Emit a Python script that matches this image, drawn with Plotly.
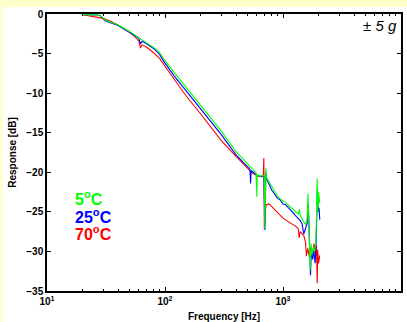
import plotly.graph_objects as go

# ---- data ----
f_green = [20, 25, 28, 31, 35, 40, 50, 55, 60, 62, 65, 70, 80, 85, 90, 100, 120, 150, 200, 250, 300, 400, 500, 530, 560, 590, 600, 605, 640, 680, 695, 702, 708, 715, 725, 760, 800, 850, 900, 950, 1000, 1050, 1100, 1200, 1300, 1350, 1380, 1400, 1450, 1500, 1550, 1600, 1630, 1660, 1700, 1730, 1760, 1800, 1850, 1900, 1930, 1950, 1975, 2000, 2050]
db_green = [-0.05, -0.08, -0.15, -0.75, -1.05, -1.4, -2.2, -2.6, -2.95, -3.1, -3.3, -3.6, -4.2, -4.5, -4.9, -5.9, -7.4, -9.2, -11.5, -13.3, -14.8, -17.4, -19.0, -19.4, -19.7, -20.0, -23.1, -20.3, -20.5, -20.4, -20.6, -27.2, -24.0, -19.5, -20.7, -21.2, -21.8, -22.5, -23.0, -23.4, -23.6, -23.8, -24.1, -24.6, -25.1, -25.3, -24.7, -25.5, -25.9, -26.3, -26.6, -26.0, -22.7, -27.0, -32.4, -29.0, -30.5, -29.5, -30.0, -29.0, -25.0, -20.8, -25.0, -22.5, -23.9]

f_blue = [20, 25, 28, 31, 35, 40, 50, 55, 60, 62, 64, 70, 80, 90, 100, 120, 150, 200, 250, 300, 400, 500, 525, 531, 537, 560, 600, 650, 690, 702, 708, 716, 730, 800, 900, 950, 1000, 1050, 1100, 1200, 1300, 1400, 1450, 1500, 1550, 1600, 1640, 1670, 1710, 1740, 1780, 1820, 1870, 1900, 1940, 1960, 1990, 2020, 2050]
db_blue = [-0.05, -0.08, -0.15, -0.85, -1.1, -1.45, -2.3, -2.7, -3.05, -3.8, -3.45, -3.75, -4.35, -5.1, -6.2, -7.85, -9.65, -11.95, -13.75, -15.25, -17.8, -19.3, -19.6, -21.4, -19.8, -20.0, -20.4, -20.5, -20.5, -27.3, -24.5, -20.0, -20.9, -22.2, -23.3, -23.5, -24.0, -24.1, -24.4, -25.1, -25.6, -26.1, -26.5, -27.8, -27.0, -26.5, -24.0, -28.5, -33.0, -29.5, -31.0, -30.0, -31.5, -30.0, -26.0, -22.0, -25.0, -24.5, -26.0]

f_red = [20, 25, 30, 35, 40, 50, 55, 60, 62, 64, 70, 80, 90, 100, 120, 150, 200, 250, 300, 400, 500, 550, 600, 650, 680, 688, 695, 705, 720, 760, 800, 900, 1000, 1100, 1200, 1300, 1350, 1370, 1400, 1450, 1500, 1550, 1580, 1620, 1680, 1720, 1780, 1830, 1880, 1920, 1950, 1970, 2000, 2050]
db_red = [-0.1, -0.3, -0.55, -0.95, -1.4, -2.3, -2.8, -3.4, -4.3, -3.9, -4.2, -4.9, -5.6, -6.6, -8.3, -10.3, -12.6, -14.5, -16.0, -18.0, -19.5, -20.1, -20.4, -20.6, -20.5, -18.2, -27.2, -25.0, -24.1, -24.0, -24.3, -25.1, -25.8, -26.2, -26.6, -26.9, -27.2, -28.3, -27.5, -27.7, -28.0, -28.8, -30.6, -29.6, -30.8, -29.5, -30.6, -29.0, -30.8, -29.2, -34.0, -29.8, -31.5, -30.5]

series_names = ["5<sup>o</sup>C", "25<sup>o</sup>C", "70<sup>o</sup>C"]
series_colors = ["#00ff00", "#0000ff", "#ff0000"]

x_major = [10, 100, 1000, 10000]
x_major_text = ["10<sup>1</sup>", "10<sup>2</sup>", "10<sup>3</sup>", "10<sup>4</sup>"]
x_minor = [20, 30, 40, 50, 60, 70, 80, 90, 200, 300, 400, 500, 600, 700, 800, 900,
           2000, 3000, 4000, 5000, 6000, 7000, 8000, 9000]
y_ticks = [0, -5, -10, -15, -20, -25, -30, -35]

FONT = "Liberation Sans, Arial, sans-serif"

fig = go.Figure()
for f, d, c in [(f_red, db_red, series_colors[2]), (f_blue, db_blue, series_colors[1]), (f_green, db_green, series_colors[0])]:
    fig.add_trace(go.Scatter(x=f, y=d, mode="lines", line=dict(color=c, width=1.1), showlegend=False))

fig.update_layout(
    width=407, height=322,
    margin=dict(l=47, r=6, t=14, b=31),
    paper_bgcolor="#ffffcc",
    plot_bgcolor="white",
    font=dict(family=FONT, color="black"),
    shapes=[dict(type="rect", xref="paper", yref="paper", layer="below",
                 x0=-0.125, x1=1.02, y0=-0.12, y1=1.0253,
                 fillcolor="white", line=dict(width=0))],
)
fig.update_xaxes(
    type="log", range=[1, 4], automargin=False,
    tickmode="array", tickvals=x_major, ticktext=x_major_text,
    ticks="inside", ticklen=4, tickcolor="black",
    showline=True, linecolor="black", linewidth=1.5, mirror="allticks",
    showgrid=False, zeroline=False,
    tickfont=dict(size=10, family=FONT, weight="bold"),
    minor=dict(tickvals=x_minor, ticks="inside", ticklen=2, tickcolor="black", showgrid=False),
    title=dict(text="Frequency [Hz]", font=dict(size=10, family=FONT, weight="bold"), standoff=9),
)
fig.update_yaxes(
    range=[-35, 0], automargin=False,
    tickmode="array", tickvals=y_ticks,
    ticks="inside", ticklen=4, tickcolor="black",
    showline=True, linecolor="black", linewidth=1.5, mirror="allticks",
    showgrid=False, zeroline=False,
    tickfont=dict(size=10, family=FONT, weight="bold"),
    title=dict(text="Response [dB]", font=dict(size=10, family=FONT, weight="bold"), standoff=8),
)

# series labels
label_y = [0.3357, 0.2708, 0.2094]
for name, c, yy in zip(series_names, series_colors, label_y):
    fig.add_annotation(xref="paper", yref="paper", x=0.073, y=yy, xanchor="left", yanchor="middle",
                       text=name, showarrow=False,
                       font=dict(size=16, color=c, family=FONT, weight="bold"))

fig.add_annotation(xref="paper", yref="paper", x=0.995, y=0.96, xanchor="right", yanchor="middle",
                   text="<i>± 5 g</i>", showarrow=False, font=dict(size=15, color="black", family=FONT))

# slide title (mostly cut off above the image)
fig.add_annotation(xref="paper", yref="paper", x=-0.025, y=1.046, xanchor="left", yanchor="bottom",
                   text="<b>Frequency Response</b>", showarrow=False,
                   font=dict(size=32, color="#2b2b99", family="Liberation Serif, Times New Roman, serif"))

fig.write_html("out.html", config={"displayModeBar": False},
               post_script="document.body.style.margin='0';document.body.style.overflow='hidden';")
